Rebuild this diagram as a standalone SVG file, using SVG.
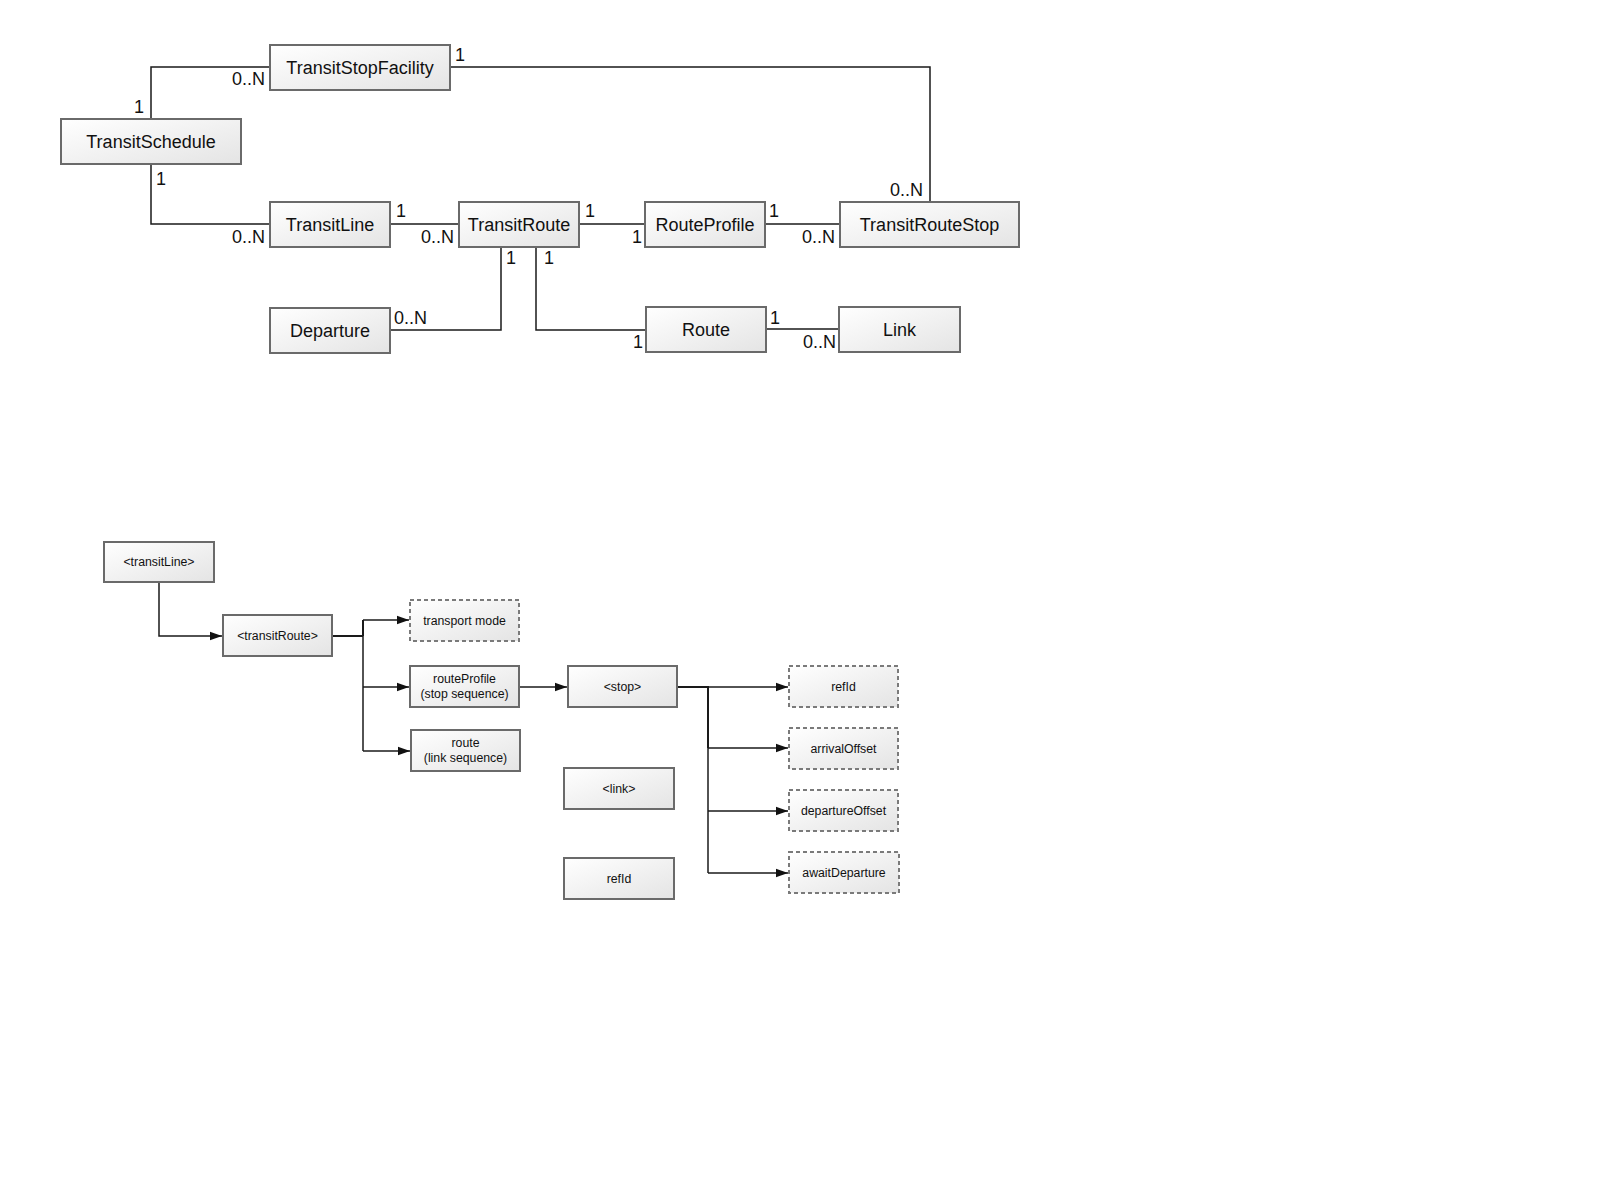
<svg xmlns="http://www.w3.org/2000/svg" width="1600" height="1200" viewBox="0 0 1600 1200">
<defs>
<linearGradient id="g" x1="0" y1="0" x2="1" y2="1">
<stop offset="0" stop-color="#ffffff"/>
<stop offset="1" stop-color="#e4e4e4"/>
</linearGradient>
<marker id="arr" markerUnits="userSpaceOnUse" markerWidth="14" markerHeight="10" refX="12" refY="5" orient="auto">
<path d="M0,0.8 L12,5 L0,9.2 Z" fill="#111"/>
</marker>
</defs>
<style>
.b{fill:url(#g);stroke:#6a6a6a;stroke-width:2}
.d{fill:url(#g);stroke:#7a7a7a;stroke-width:2;stroke-dasharray:4 3}
.t{font-family:"Liberation Sans",Arial,sans-serif;font-size:18px;fill:#111;text-anchor:middle;dominant-baseline:central}
.s{font-family:"Liberation Sans",Arial,sans-serif;font-size:12.3px;fill:#111;text-anchor:middle;dominant-baseline:central}
.l{font-family:"Liberation Sans",Arial,sans-serif;font-size:18px;fill:#111}
.e{text-anchor:end}
.c{fill:none;stroke:#1a1a1a;stroke-width:1.5}
.a{fill:none;stroke:#1a1a1a;stroke-width:1.5;marker-end:url(#arr)}
</style>
<rect width="1600" height="1200" fill="#ffffff"/>

<g id="connectors">
<path class="c" d="M151,119 V67 H270"/>
<path class="c" d="M151,164 V224 H270"/>
<path class="c" d="M390,224 H459"/>
<path class="c" d="M579,224 H645"/>
<path class="c" d="M765,224 H840"/>
<path class="c" d="M450,67 H930 V202"/>
<path class="c" d="M501,247 V330 H390"/>
<path class="c" d="M536,247 V330 H646"/>
<path class="c" d="M766,329 H839"/>

<path class="c" d="M159,582 V636 H222" marker-end="url(#arr)"/>
<path class="c" style="stroke-width:2" d="M332,636 H363"/>
<path class="c" style="stroke-width:2" d="M363,620 V636"/>
<path class="c" d="M363,636 V751"/>
<path class="c" d="M363,620 H409" marker-end="url(#arr)"/>
<path class="c" d="M363,687 H409" marker-end="url(#arr)"/>
<path class="c" d="M363,751 H410" marker-end="url(#arr)"/>
<path class="c" d="M519,687 H567" marker-end="url(#arr)"/>
<path class="c" style="stroke-width:2" d="M677,687 H708 V748"/>
<path class="c" d="M708,748 V873"/>
<path class="c" d="M708,687 H788" marker-end="url(#arr)"/>
<path class="c" d="M708,748 H788" marker-end="url(#arr)"/>
<path class="c" d="M708,811 H788" marker-end="url(#arr)"/>
<path class="c" d="M708,873 H788" marker-end="url(#arr)"/>

<text class="l e" x="265" y="85">0..N</text>
<text class="l" x="455" y="61">1</text>
<text class="l" x="134" y="113">1</text>
<text class="l" x="156" y="185">1</text>
<text class="l e" x="265" y="243">0..N</text>
<text class="l" x="396" y="217">1</text>
<text class="l e" x="454" y="243">0..N</text>
<text class="l" x="585" y="217">1</text>
<text class="l" x="632" y="243">1</text>
<text class="l" x="769" y="217">1</text>
<text class="l e" x="835" y="243">0..N</text>
<text class="l e" x="923" y="196">0..N</text>
<text class="l" x="506" y="264">1</text>
<text class="l" x="544" y="264">1</text>
<text class="l" x="394" y="324">0..N</text>
<text class="l" x="633" y="348">1</text>
<text class="l" x="770" y="324">1</text>
<text class="l e" x="836" y="348">0..N</text>
</g>

<g id="TransitStopFacility"><rect class="b" x="270" y="45" width="180" height="45"/><text class="t" x="360" y="67.5">TransitStopFacility</text></g>
<g id="TransitSchedule"><rect class="b" x="61" y="119" width="180" height="45"/><text class="t" x="151" y="141.5">TransitSchedule</text></g>
<g id="TransitLine"><rect class="b" x="270" y="202" width="120" height="45"/><text class="t" x="330" y="224.5">TransitLine</text></g>
<g id="TransitRoute"><rect class="b" x="459" y="202" width="120" height="45"/><text class="t" x="519" y="224.5">TransitRoute</text></g>
<g id="RouteProfile"><rect class="b" x="645" y="202" width="120" height="45"/><text class="t" x="705" y="224.5">RouteProfile</text></g>
<g id="TransitRouteStop"><rect class="b" x="840" y="202" width="179" height="45"/><text class="t" x="929.5" y="224.5">TransitRouteStop</text></g>
<g id="Departure"><rect class="b" x="270" y="308" width="120" height="45"/><text class="t" x="330" y="330.5">Departure</text></g>
<g id="Route"><rect class="b" x="646" y="307" width="120" height="45"/><text class="t" x="706" y="329.5">Route</text></g>
<g id="Link"><rect class="b" x="839" y="307" width="121" height="45"/><text class="t" x="899.5" y="329.5">Link</text></g>

<g id="transitLineEl"><rect class="b" x="104" y="542" width="110" height="40"/><text class="s" x="159" y="562">&lt;transitLine&gt;</text></g>
<g id="transitRouteEl"><rect class="b" x="223" y="615" width="109" height="41"/><text class="s" x="277.5" y="635.5">&lt;transitRoute&gt;</text></g>
<g id="transportMode"><rect class="d" x="410" y="600" width="109" height="41"/><text class="s" x="464.5" y="620.5">transport mode</text></g>
<g id="routeProfileEl"><rect class="b" x="410" y="666" width="109" height="41"/><text class="s" x="464.5" y="679">routeProfile</text><text class="s" x="464.5" y="694">(stop sequence)</text></g>
<g id="routeEl"><rect class="b" x="411" y="730" width="109" height="41"/><text class="s" x="465.5" y="743">route</text><text class="s" x="465.5" y="758">(link sequence)</text></g>
<g id="stopEl"><rect class="b" x="568" y="666" width="109" height="41"/><text class="s" x="622.5" y="686.5">&lt;stop&gt;</text></g>
<g id="linkEl"><rect class="b" x="564" y="768" width="110" height="41"/><text class="s" x="619" y="788.5">&lt;link&gt;</text></g>
<g id="refIdSolid"><rect class="b" x="564" y="858" width="110" height="41"/><text class="s" x="619" y="878.5">refId</text></g>
<g id="refIdDashed"><rect class="d" x="789" y="666" width="109" height="41"/><text class="s" x="843.5" y="686.5">refId</text></g>
<g id="arrivalOffset"><rect class="d" x="789" y="728" width="109" height="41"/><text class="s" x="843.5" y="748.5">arrivalOffset</text></g>
<g id="departureOffset"><rect class="d" x="789" y="790" width="109" height="41"/><text class="s" x="843.5" y="810.5">departureOffset</text></g>
<g id="awaitDeparture"><rect class="d" x="789" y="852" width="110" height="41"/><text class="s" x="844" y="872.5">awaitDeparture</text></g>
</svg>
